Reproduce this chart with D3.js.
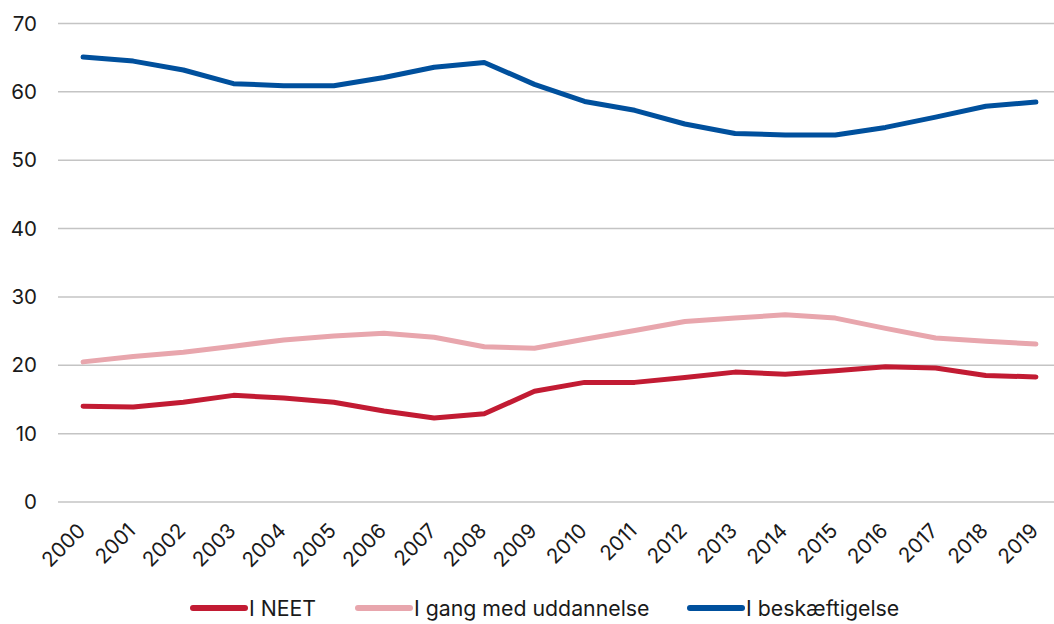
<!DOCTYPE html>
<html><head><meta charset="utf-8">
<script src="https://cdn.jsdelivr.net/npm/d3@7/dist/d3.min.js"></script>
<style>body{margin:0;background:#fff}svg{display:block;font-family:Inter,"Noto Sans",sans-serif}</style>
</head><body><svg id="c" width="1054" height="624"></svg>
<script>
const years = ["2000","2001","2002","2003","2004","2005","2006","2007","2008","2009","2010","2011","2012","2013","2014","2015","2016","2017","2018","2019"];
const neet = [14.0,13.9,14.6,15.6,15.2,14.6,13.3,12.3,12.9,16.2,17.5,17.5,18.2,19.0,18.7,19.2,19.8,19.6,18.5,18.3];
const uddannelse = [20.5,21.3,21.9,22.8,23.7,24.3,24.7,24.1,22.7,22.5,23.8,25.1,26.4,26.9,27.4,26.9,25.4,24.0,23.5,23.1];
const beskaeftigelse = [65.1,64.5,63.2,61.2,60.9,60.9,62.1,63.6,64.3,61.1,58.6,57.3,55.3,53.9,53.7,53.7,54.8,56.3,57.9,58.5];
const yTicks = [0,10,20,30,40,50,60,70];
const seriesNames = ["I NEET","I gang med uddannelse","I beskæftigelse"];
const seriesColors = ["#C21B33","#E8A6AD","#00509D"];
const seriesData = [neet, uddannelse, beskaeftigelse];

const svg = d3.select("#c");
const x = d3.scalePoint().domain(years).range([58,1061]).padding(0.5);
const y = d3.scaleLinear().domain([0,70]).range([502,23.5]);

const grid = svg.append("g");
grid.selectAll("line").data(yTicks).join("line")
  .attr("x1",58).attr("x2",1054)
  .attr("y1",d=>y(d)).attr("y2",d=>y(d))
  .attr("stroke","#c4c4c4").attr("stroke-width",1.5);

const yAxis = svg.append("g").attr("transform","translate(37,0)")
  .call(d3.axisLeft(y).tickValues(yTicks).tickSize(0).tickPadding(0));
yAxis.select(".domain").remove();
yAxis.selectAll("text").attr("font-size",20.5).attr("fill","#1a1a1a").attr("font-family","Inter, sans-serif");

const xAxis = svg.append("g").attr("transform","translate(0,0)")
  .call(d3.axisBottom(x).tickSize(0).tickPadding(0));
xAxis.select(".domain").remove();
xAxis.selectAll("text")
  .attr("font-size",20.5).attr("fill","#1a1a1a").attr("font-family","Inter, sans-serif")
  .attr("text-anchor","end").attr("dy","0")
  .attr("y",0)
  .attr("transform","translate(3,532) rotate(-45)");

const line = d3.line().x((d,i)=>x(years[i])).y(d=>y(d));
seriesData.forEach((s,k)=>{
  svg.append("path").datum(s).attr("d",line)
    .attr("fill","none").attr("stroke",seriesColors[k]).attr("stroke-width",5)
    .attr("stroke-linecap","round").attr("stroke-linejoin","round");
});

const legX = [190,355,687];
const lg = svg.append("g");
seriesNames.forEach((n,k)=>{
  lg.append("line").attr("x1",legX[k]+3).attr("x2",legX[k]+55).attr("y1",608).attr("y2",608)
    .attr("stroke",seriesColors[k]).attr("stroke-width",6).attr("stroke-linecap","round");
  lg.append("text").attr("x",legX[k]+59).attr("y",608).attr("dy","0.36em")
    .attr("font-size",21.3).attr("fill","#1a1a1a").text(n);
});
</script></body></html>
